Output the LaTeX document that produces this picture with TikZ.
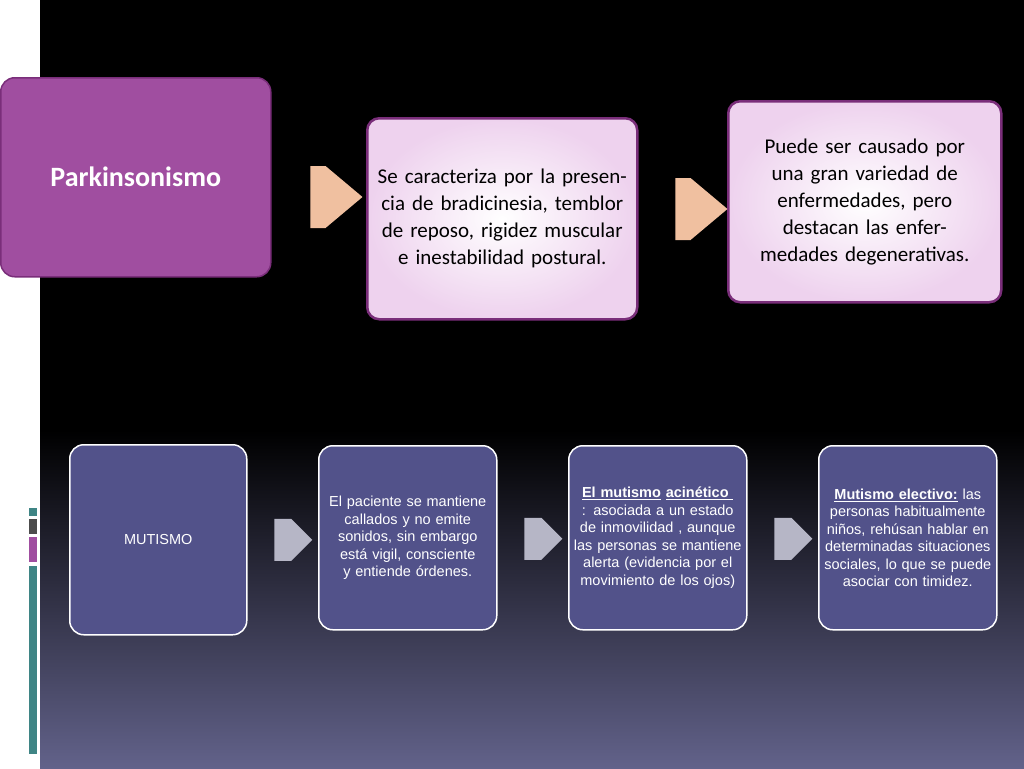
\documentclass[tikz,border=0pt]{standalone}
\usepackage{fontspec}
\setmainfont{Carlito}
\newfontfamily\arial{Liberation Sans}
\usetikzlibrary{shapes.arrows,calc}
\definecolor{pk}{HTML}{A04EA0}
\definecolor{pkb}{HTML}{7A2E7A}
\definecolor{lp}{HTML}{EED2EE}
\definecolor{mb}{HTML}{52528A}
\definecolor{peach}{HTML}{F0C0A0}
\definecolor{ga}{HTML}{B6B6C6}
\definecolor{tl}{HTML}{3F8585}
\definecolor{bot}{HTML}{62628A}
\tikzset{
  topbox/.style={rounded corners=12pt, draw=pkb, line width=2.5pt, inner color=white, outer color=lp, text width=#1, align=center, font=\fontsize{21}{27}\selectfont, anchor=north west},
  botbox/.style={rounded corners=14pt, draw=white, line width=1.5pt, fill=mb, text=white, align=center, font=\arial\fontsize{14.5}{17.5}\selectfont, anchor=north west, inner sep=3pt},
  parr/.style={single arrow, fill=peach, draw=none, minimum height=52pt, minimum width=62pt, single arrow head extend=0pt, single arrow tip angle=80, inner sep=0pt},
  garr/.style={single arrow, fill=ga, draw=none, minimum height=38pt, minimum width=42pt, single arrow head extend=0pt, single arrow tip angle=90, inner sep=0pt}
}
\begin{document}
\begin{tikzpicture}[x=1pt,y=-1pt]
\useasboundingbox (0,0) rectangle (1024,768);
\fill[white] (0,0) rectangle (1024,768);
\fill[black] (40,0) rectangle (1024,430);
\shade[top color=black, bottom color=bot] (40,430) rectangle (1024,768);
\fill[tl] (29,508) rectangle (37,516);
\fill[black!70] (29,519) rectangle (37,534);
\fill[pk] (29,537) rectangle (37,562);
\fill[tl] (29,566) rectangle (37,754);
% top row
\node[rounded corners=14pt, fill=pk, draw=pkb, line width=1.5pt, text=white, minimum width=270pt, minimum height=199pt, anchor=north west, font=\bfseries\fontsize{28}{32}\selectfont] (p1) at (0,77) {Parkinsonismo};
\node[topbox=250pt, minimum width=270pt, minimum height=201pt] (p2) at (366,117) {Se caracteriza por la presencia de bradicinesia, temblor de reposo, rigidez muscular e inestabilidad postural.};
\node[topbox=250pt, minimum width=273pt, minimum height=201pt] (p3) at (727,100) {Puede ser causado por una gran variedad de enfermedades, pero destacan las enfermedades degenerativas.};
\node[parr] (a1) at (318,197) {};
\node[parr] (a2) at (683,209) {};
% bottom row
\node[botbox, minimum width=177pt, minimum height=190pt] (m1) at (69,444) {MUTISMO};
\node[botbox, text width=170pt, minimum width=178pt, minimum height=184pt] (m2) at (318,445) {El paciente se mantiene callados y no emite sonidos, sin embargo está vigil, consciente y entiende órdenes.};
\node[botbox, text width=170pt, minimum width=178pt, minimum height=184pt] (m3) at (568,445) {\textbf{\underline{El mutismo}} \textbf{\underline{acinético }} : asociada a un estado de inmovilidad , aunque las personas se mantiene alerta (evidencia por el movimiento de los ojos)};
\node[botbox, text width=170pt, minimum width=178pt, minimum height=184pt] (m4) at (818,445) {\textbf{\underline{Mutismo electivo:}} las personas habitualmente niños, rehúsan hablar en determinadas situaciones sociales, lo que se puede asociar con timidez.};
\node[garr] (b1) at ($(m1.east)!0.5!(m2.west)+(0,1)$) {};
\node[garr] (b2) at ($(m2.east)!0.5!(m3.west)+(0,1)$) {};
\node[garr] (b3) at ($(m3.east)!0.5!(m4.west)+(0,1)$) {};
\end{tikzpicture}
\end{document}
